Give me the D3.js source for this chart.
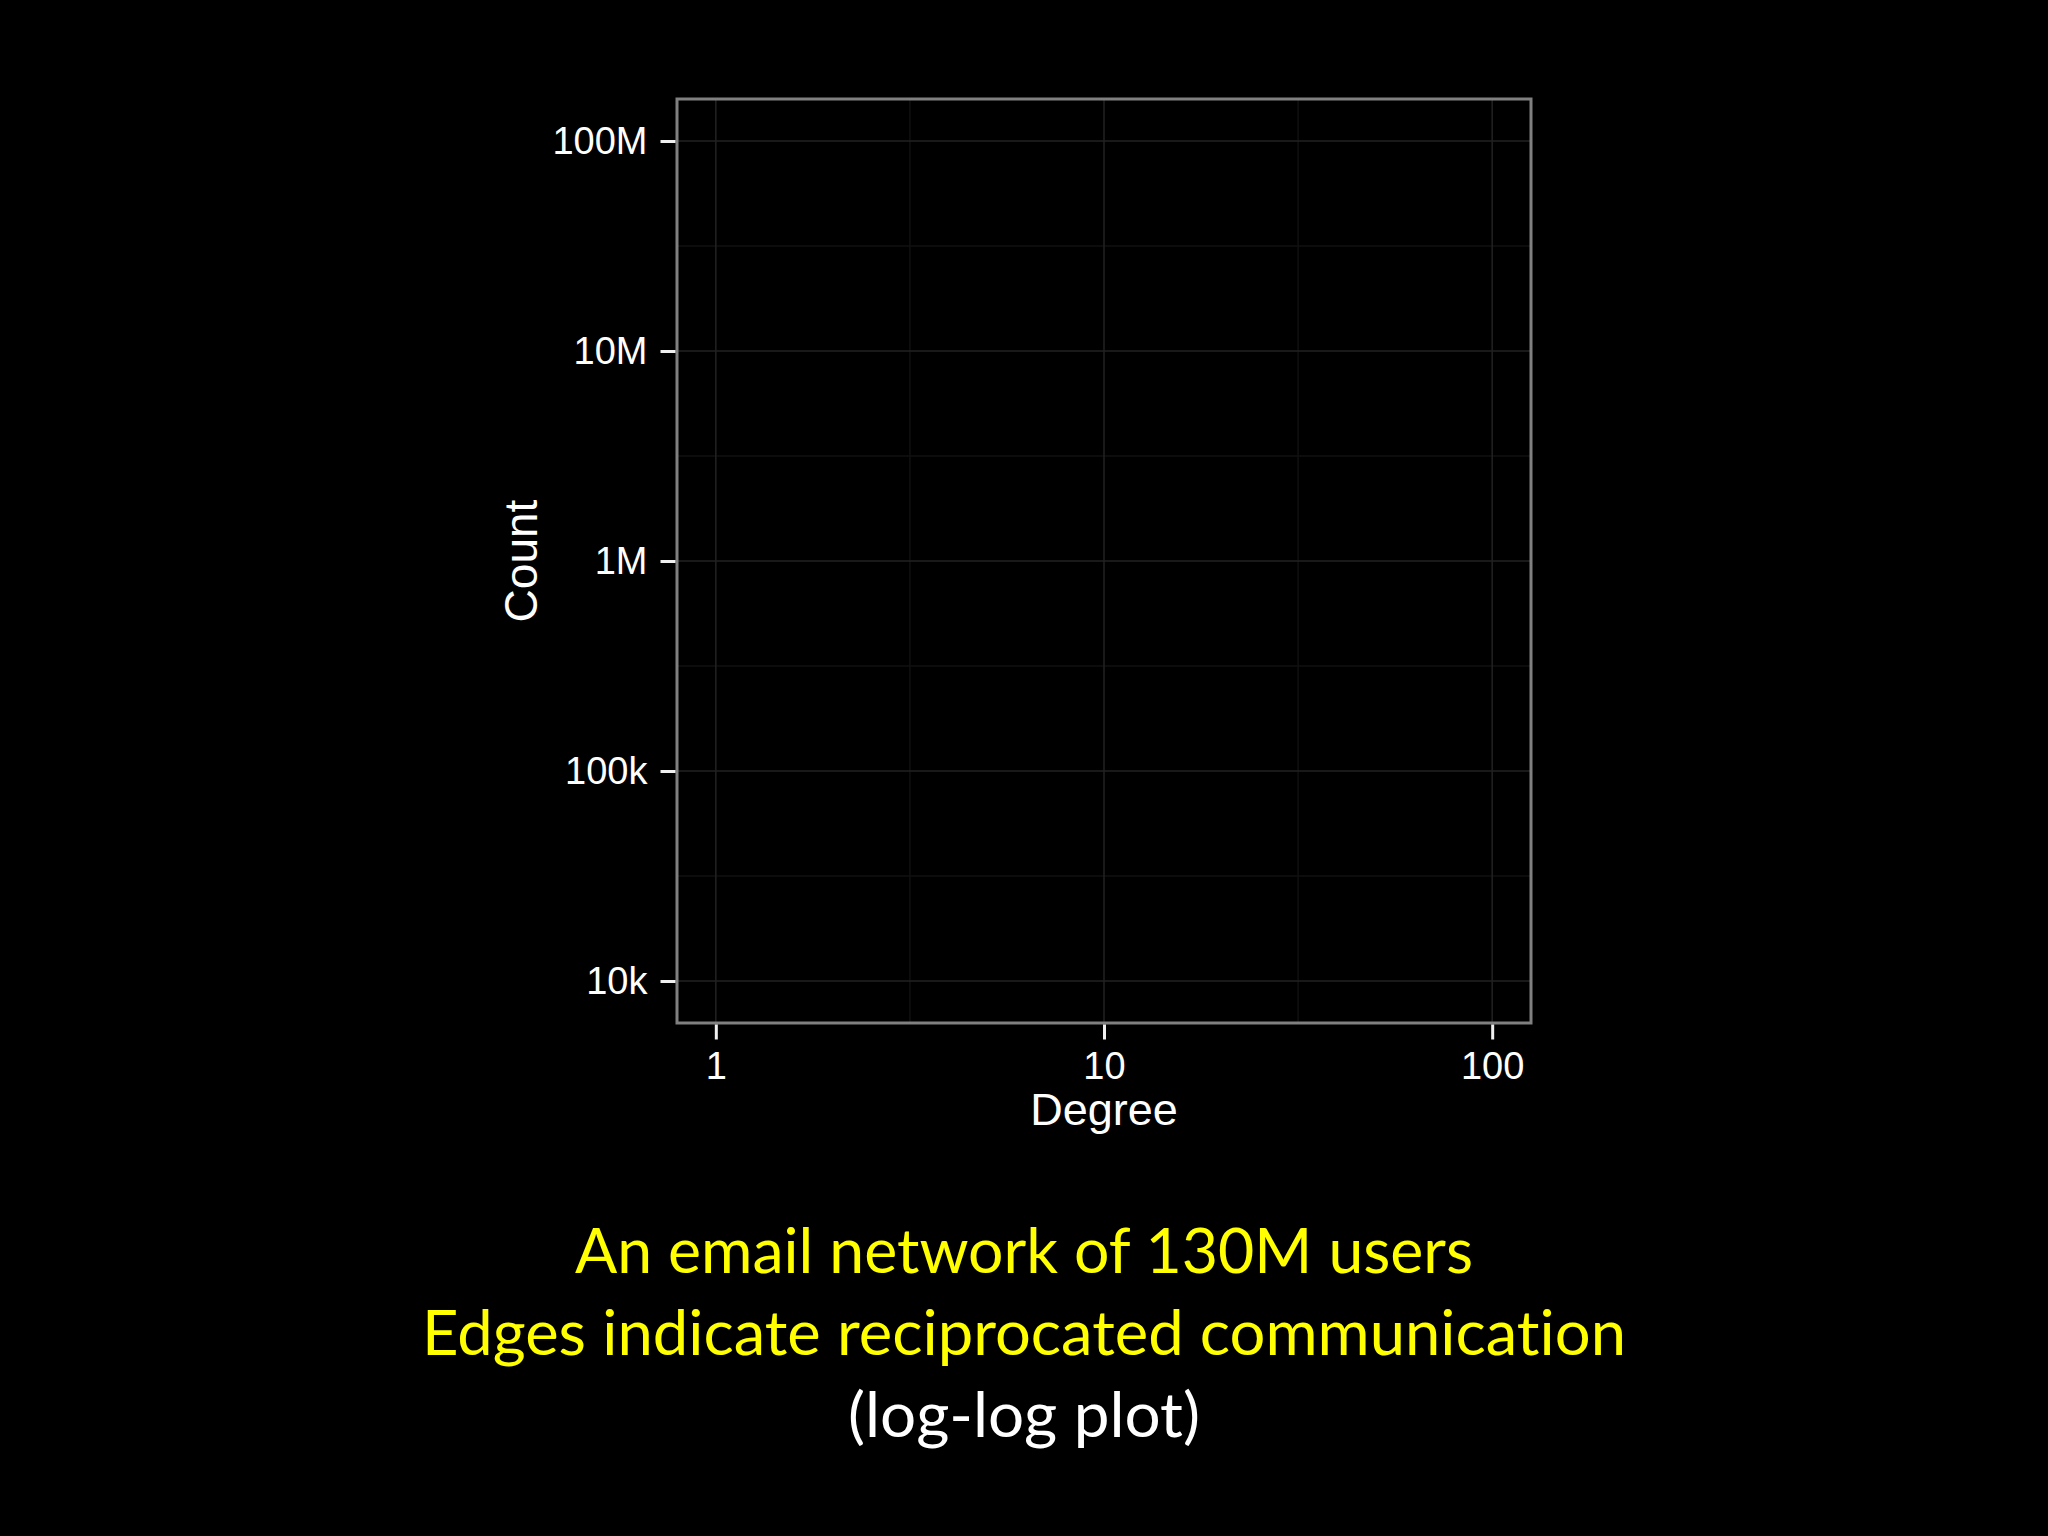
<!DOCTYPE html>
<html lang="en">
<head>
    <meta charset="UTF-8">
    <title>Degree distribution</title>
    <script src="https://cdn.jsdelivr.net/npm/d3@7"></script>
    <style>
        body { margin: 0; background: #000; }
        svg { display: block; }
    </style>
</head>
<body>
<script type="text/javascript">
    // canvas
    var width = 2048;
    var height = 1536;

    // data: the panel is empty in the reference, only the axes are shown
    var degree = [];
    var count = [];

    // axis ticks
    var xTicks = [1, 10, 100];
    var xLabels = ['1', '10', '100'];
    var yTicks = [1e4, 1e5, 1e6, 1e7, 1e8];
    var yLabels = ['10k', '100k', '1M', '10M', '100M'];

    // caption lines
    var captionLines = ['An email network of 130M users', 'Edges indicate reciprocated communication', '(log-log plot)'];
    var captionColors = ['#ffff00', '#ffff00', '#ffffff'];

    // panel edges
    var panel = {left: 677, right: 1531, top: 99, bottom: 1023};

    var svg = d3.select('body')
            .append('svg')
            .attr('width', width)
            .attr('height', height);

    svg.append('rect')
            .attr('width', width)
            .attr('height', height)
            .attr('fill', '#000');

    // log ranges expanded by 5% like ggplot does
    var lx = [Math.log10(xTicks[0]), Math.log10(xTicks[xTicks.length - 1])];
    var ly = [Math.log10(yTicks[0]), Math.log10(yTicks[yTicks.length - 1])];
    var ex = (lx[1] - lx[0]) * 0.05;
    var ey = (ly[1] - ly[0]) * 0.05;

    var xScale = d3.scaleLog()
            .domain([Math.pow(10, lx[0] - ex), Math.pow(10, lx[1] + ex)])
            .range([panel.left, panel.right]);
    var yScale = d3.scaleLog()
            .domain([Math.pow(10, ly[0] - ey), Math.pow(10, ly[1] + ey)])
            .range([panel.bottom, panel.top]);

    // minor breaks sit half way between majors on the log scale
    function minors(ticks) {
        var out = [];
        for (var i = 0; i < ticks.length - 1; i++) {
            out.push(Math.sqrt(ticks[i] * ticks[i + 1]));
        }
        return out;
    }

    var grid = svg.append('g');
    grid.selectAll('.minorX')
            .data(minors(xTicks))
            .enter().append('line')
            .attr('x1', function (d) { return xScale(d); })
            .attr('x2', function (d) { return xScale(d); })
            .attr('y1', panel.top)
            .attr('y2', panel.bottom)
            .attr('stroke', '#101010')
            .attr('stroke-width', 1.5);
    grid.selectAll('.minorY')
            .data(minors(yTicks))
            .enter().append('line')
            .attr('y1', function (d) { return yScale(d); })
            .attr('y2', function (d) { return yScale(d); })
            .attr('x1', panel.left)
            .attr('x2', panel.right)
            .attr('stroke', '#101010')
            .attr('stroke-width', 1.5);
    grid.selectAll('.majorX')
            .data(xTicks)
            .enter().append('line')
            .attr('x1', function (d) { return xScale(d); })
            .attr('x2', function (d) { return xScale(d); })
            .attr('y1', panel.top)
            .attr('y2', panel.bottom)
            .attr('stroke', '#222')
            .attr('stroke-width', 1.5);
    grid.selectAll('.majorY')
            .data(yTicks)
            .enter().append('line')
            .attr('y1', function (d) { return yScale(d); })
            .attr('y2', function (d) { return yScale(d); })
            .attr('x1', panel.left)
            .attr('x2', panel.right)
            .attr('stroke', '#222')
            .attr('stroke-width', 1.5);

    // points (none in the reference)
    svg.selectAll('.pt')
            .data(degree)
            .enter().append('circle')
            .attr('cx', function (d) { return xScale(d); })
            .attr('cy', function (d, i) { return yScale(count[i]); })
            .attr('r', 4)
            .attr('fill', '#fff');

    // panel border
    svg.append('rect')
            .attr('x', panel.left)
            .attr('y', panel.top)
            .attr('width', panel.right - panel.left)
            .attr('height', panel.bottom - panel.top)
            .attr('fill', 'none')
            .attr('stroke', '#808080')
            .attr('stroke-width', 3);

    // axes
    var xAxis = d3.axisBottom(xScale)
            .tickValues(xTicks)
            .tickFormat(function (d, i) { return xLabels[i]; })
            .tickSize(15)
            .tickPadding(13);
    var yAxis = d3.axisLeft(yScale)
            .tickValues(yTicks)
            .tickFormat(function (d, i) { return yLabels[i]; })
            .tickSize(15)
            .tickPadding(13);

    var gx = svg.append('g')
            .attr('transform', 'translate(0,' + (panel.bottom + 1.5) + ')')
            .call(xAxis);
    var gy = svg.append('g')
            .attr('transform', 'translate(' + (panel.left - 1.5) + ',0)')
            .call(yAxis);

    [gx, gy].forEach(function (g) {
        g.select('.domain').remove();
        g.selectAll('.tick line').attr('stroke', '#f0f0f0').attr('stroke-width', 3);
        g.selectAll('.tick text')
                .attr('fill', '#fff')
                .style('font-family', '"Liberation Sans", Arial, sans-serif')
                .style('font-size', '38px');
    });

    // axis titles
    svg.append('text')
            .attr('x', (panel.left + panel.right) / 2)
            .attr('y', 1125)
            .attr('text-anchor', 'middle')
            .attr('fill', '#fff')
            .style('font-family', '"Liberation Sans", Arial, sans-serif')
            .style('font-size', '45px')
            .text('Degree');
    svg.append('text')
            .attr('transform', 'translate(537,' + (panel.top + panel.bottom) / 2 + ') rotate(-90)')
            .attr('text-anchor', 'middle')
            .attr('fill', '#fff')
            .style('font-family', '"Liberation Sans", Arial, sans-serif')
            .style('font-size', '46px')
            .text('Count');

    // caption below the chart
    var capWidths = [898, 1204, 352];
    svg.selectAll('.caption')
            .data(captionLines)
            .enter().append('text')
            .attr('class', 'caption')
            .attr('x', width / 2)
            .attr('y', function (d, i) { return 1273 + i * 82; })
            .attr('text-anchor', 'middle')
            .attr('fill', function (d, i) { return captionColors[i]; })
            .attr('textLength', function (d, i) { return capWidths[i]; })
            .attr('lengthAdjust', 'spacingAndGlyphs')
            .style('font-family', 'Lato, "Open Sans", sans-serif')
            .style('font-size', '62px')
            .style('font-variant-ligatures', 'none')
            .text(function (d) { return d; });
</script>
</body>
</html>
